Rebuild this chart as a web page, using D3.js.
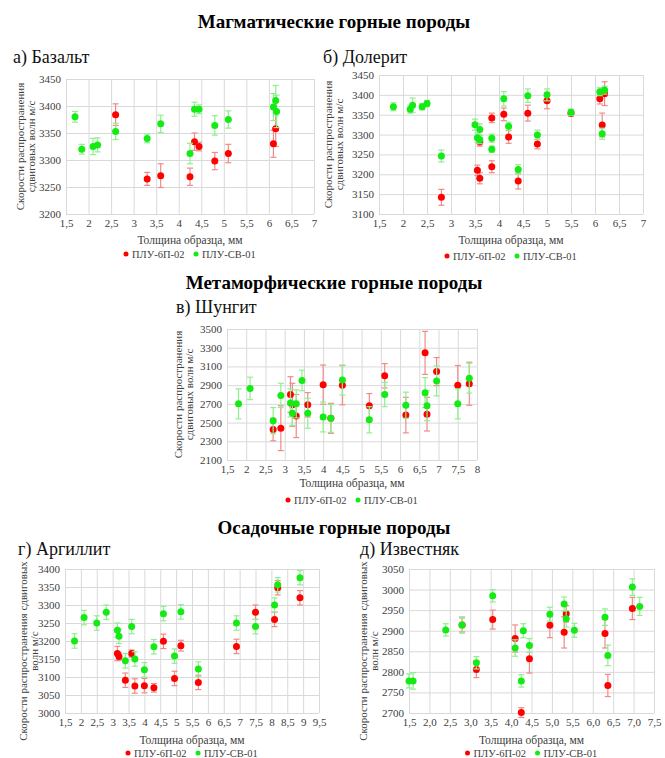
<!DOCTYPE html>
<html>
<head>
<meta charset="utf-8">
<script src="https://cdn.jsdelivr.net/npm/d3@7"></script>
<style>
  body { margin: 0; background: #fff; }
</style>
</head>
<body>
<div id="chart"></div>
<script>
// series as [thickness mm, velocity m/s, error]
let basaltRed = [[2.6,3384,20],[3.3,3265,12],[3.6,3271,22],[4.25,3269,16],[4.35,3334,16],[4.45,3325,8],
  [4.8,3298,16],[5.1,3312,17],[6.1,3330,25],[6.15,3358,33]];
let basaltGreen = [[1.7,3380,10],[1.85,3320,9],[2.1,3325,15],[2.2,3328,13],[2.6,3353,15],[3.3,3340,8],
  [3.6,3367,16],[4.25,3312,19],[4.35,3394,13],[4.45,3394,8],[4.8,3364,18],[5.1,3375,16],
  [6.1,3398,25],[6.15,3410,28],[6.17,3390,30]];

let doleriteRed = [[2.8,3142,20],[3.55,3210,13],[3.6,3190,14],[3.6,3281,10],[3.85,3342,12],[3.85,3219,15],
  [4.1,3351,16],[4.2,3294,16],[4.4,3183,20],[4.6,3354,20],[4.8,3276,12],[5.0,3385,20],
  [5.5,3354,8],[6.1,3390,13],[6.15,3324,30],[6.2,3403,30]];
let doleriteGreen = [[1.8,3370,10],[2.15,3364,10],[2.2,3374,18],[2.4,3370,8],[2.5,3378,8],[2.8,3246,15],
  [3.5,3325,14],[3.55,3292,12],[3.6,3313,14],[3.6,3287,10],[3.85,3291,10],[3.85,3263,8],
  [4.1,3390,18],[4.2,3321,10],[4.4,3212,12],[4.6,3398,17],[4.8,3299,12],[5.0,3400,15],
  [5.5,3356,8],[6.1,3408,10],[6.15,3302,14],[6.2,3412,10]];

let shungiteRed = [[2.7,2425,120],[2.9,2440,240],[3.15,2800,190],[3.2,2690,230],[3.3,2570,230],
  [3.6,2690,130],[4.0,2905,210],[4.2,2545,160],[4.5,2900,210],[5.2,2680,130],[5.6,3000,130],
  [6.15,2580,190],[6.65,3245,230],[6.7,2590,180],[6.95,3045,150],[7.5,2900,210],[7.8,2915,230]];
let shungiteGreen = [[1.8,2700,160],[2.1,2865,120],[2.7,2520,140],[2.9,2790,130],[3.15,2710,150],
  [3.2,2600,130],[3.3,2700,150],[3.45,2950,110],[3.6,2600,160],[4.0,2560,160],[4.2,2545,150],
  [4.5,2955,160],[5.2,2530,140],[5.6,2800,130],[6.15,2685,140],[6.65,2820,160],[6.7,2680,160],
  [6.95,2945,160],[7.5,2700,160],[7.8,2975,160]];

let argilliteRed = [[3.15,3165,20],[3.2,3157,10],[3.4,3091,20],[3.6,3165,10],[3.7,3075,20],[4.0,3076,20],
  [4.3,3070,12],[4.6,3199,20],[4.95,3096,20],[5.15,3187,15],[5.7,3085,20],[6.9,3185,20],
  [7.5,3280,20],[8.1,3260,20],[8.2,3348,20],[8.9,3320,20]];
let argilliteGreen = [[1.8,3200,20],[2.1,3265,20],[2.5,3250,20],[2.8,3280,20],[3.15,3230,20],[3.2,3213,20],
  [3.4,3145,20],[3.6,3240,20],[3.7,3150,20],[4.0,3120,20],[4.3,3184,20],[4.6,3276,20],
  [4.95,3158,20],[5.15,3281,20],[5.7,3122,20],[6.9,3250,20],[7.5,3240,20],[8.1,3300,20],
  [8.2,3356,20],[8.9,3376,20]];

let limestoneRed = [[2.8,2914,17],[3.15,2806,20],[3.55,2927,23],[4.1,2881,33],[4.25,2701,12],[4.45,2832,35],
  [4.95,2913,30],[5.3,2896,38],[5.35,2941,20],[6.3,2893,35],[6.37,2767,27],[6.97,2954,27]];
let limestoneGreen = [[1.5,2778,17],[1.6,2778,20],[2.4,2902,15],[2.8,2914,20],[3.15,2822,15],[3.55,2985,15],
  [4.1,2858,20],[4.25,2778,15],[4.3,2900,17],[4.45,2864,17],[4.95,2940,17],[5.3,2965,17],
  [5.35,2929,20],[5.55,2901,17],[6.3,2933,20],[6.37,2840,25],[6.97,3006,20],[7.15,2959,22]];

let seriesNames = ["ПЛУ-6П-02", "ПЛУ-СВ-01"];
let sectionTitles = ["Магматические горные породы", "Метаморфические горные породы", "Осадочные горные породы"];
let xTitle = "Толщина образца, мм";

const width = 665, height = 758;
const FONT = "'Liberation Serif', 'Times New Roman', serif";
const red = "#ff0000", green = "#14ea14";
const redErr = "#f08a8a", greenErr = "#8ef08e";

let svg = d3.select("#chart").append("svg")
    .attr("width", width)
    .attr("height", height);

// section titles
[[sectionTitles[0], 28], [sectionTitles[1], 289], [sectionTitles[2], 534]].forEach(([t, y]) => {
  svg.append("text")
    .attr("x", 334).attr("y", y)
    .attr("text-anchor", "middle")
    .style("font-size", "19px")
    .style("font-weight", "bold")
    .text(t);
});

let comma = d => String(d).replace(".", ",");
let comma1 = d => d3.format(".1f")(d).replace(".", ",");

let panels = [
  {label: "а) Базальт", lx: 13, ly: 63, box: {l: 66, r: 314, t: 79, b: 214},
   xd: [1.5, 7], yd: [3200, 3450], ystep: 50, xfmt: comma,
   ylab: ["Скорости распространения", "сдвиговых волн м/с"], ylx: 24, yly: 0,
   xty: 244, legy: 258, red: basaltRed, green: basaltGreen},
  {label: "б) Долерит", lx: 323, ly: 63, box: {l: 379, r: 643, t: 75, b: 214},
   xd: [1.5, 7], yd: [3100, 3450], ystep: 50, xfmt: comma,
   ylab: ["Скорости распространения", "сдвиговых волн м/с"], ylx: 332, yly: 0,
   xty: 244, legy: 260, red: doleriteRed, green: doleriteGreen},
  {label: "в) Шунгит", lx: 176, ly: 313, box: {l: 227, r: 477, t: 329, b: 460},
   xd: [1.5, 8], yd: [2100, 3500], ystep: 200, xfmt: comma,
   ylab: ["Скорости распространения", "сдвиговых волн м/с"], ylx: 182, yly: 0,
   xty: 487, legy: 504, red: shungiteRed, green: shungiteGreen},
  {label: "г) Аргиллит", lx: 18, ly: 555, box: {l: 65, r: 319, t: 569, b: 713},
   xd: [1.5, 9.5], yd: [3000, 3400], ystep: 50, xfmt: comma,
   ylab: ["Скорости распространения сдвиговых", "волн м/с"], ylx: 27, yly: 10,
   xty: 744, legy: 757, red: argilliteRed, green: argilliteGreen},
  {label: "д) Известняк", lx: 360, ly: 555, box: {l: 409, r: 654, t: 569, b: 713},
   xd: [1.5, 7.5], yd: [2700, 3050], ystep: 50, xfmt: comma1,
   ylab: ["Скорости распространения сдвиговых", "волн м/с"], ylx: 367, yly: 10,
   xty: 744, legy: 757, red: limestoneRed, green: limestoneGreen}
];

let drawPanel = (p) => {
  let b = p.box;
  let x = d3.scaleLinear().domain(p.xd).range([b.l, b.r]);
  let y = d3.scaleLinear().domain(p.yd).range([b.b, b.t]);
  let xticks = d3.range(p.xd[0], p.xd[1] + 0.001, 0.5);
  let yticks = d3.range(p.yd[0], p.yd[1] + 0.001, p.ystep);

  let g = svg.append("g");

  // gridlines + tick labels
  g.append("g")
    .attr("transform", `translate(0,${b.b})`)
    .call(d3.axisBottom(x).tickValues(xticks).tickSize(-(b.b - b.t)).tickFormat(p.xfmt).tickPadding(5))
    .call(a => a.select(".domain").remove())
    .call(a => a.selectAll("line").attr("stroke", "#d9d9d9"))
    .call(a => a.selectAll("text").attr("fill", "#404040").style("font-size", "11px"));

  g.append("g")
    .attr("transform", `translate(${b.l},0)`)
    .call(d3.axisLeft(y).tickValues(yticks).tickSize(-(b.r - b.l)).tickFormat(d3.format("d")).tickPadding(5))
    .call(a => a.select(".domain").remove())
    .call(a => a.selectAll("line").attr("stroke", "#d9d9d9"))
    .call(a => a.selectAll("text").attr("fill", "#404040").style("font-size", "11px"));

  // panel label
  g.append("text")
    .attr("x", p.lx).attr("y", p.ly)
    .style("font-size", "18px")
    .attr("fill", "#111")
    .text(p.label);

  // y axis title
  let cy = (b.t + b.b) / 2 + p.yly;
  p.ylab.forEach((line, i) => {
    g.append("text")
      .attr("transform", `translate(${p.ylx + i * 11},${cy}) rotate(-90)`)
      .attr("text-anchor", "middle")
      .attr("fill", "#404040")
      .style("font-size", "11px")
      .text(line);
  });

  // x axis title
  g.append("text")
    .attr("x", (b.l + b.r) / 2).attr("y", p.xty)
    .attr("text-anchor", "middle")
    .attr("fill", "#404040")
    .style("font-size", "11.5px")
    .text(xTitle);

  // series: red first, green on top
  [[p.red, red, redErr], [p.green, green, greenErr]].forEach(([data, col, ecol]) => {
    let s = g.append("g");
    s.selectAll(".err").data(data).enter()
      .append("line")
      .attr("x1", d => x(d[0])).attr("x2", d => x(d[0]))
      .attr("y1", d => y(d[1] - d[2])).attr("y2", d => y(d[1] + d[2]))
      .attr("stroke", ecol).attr("stroke-width", 1.2);
    [-1, 1].forEach(sign => {
      s.selectAll(null).data(data).enter()
        .append("line")
        .attr("x1", d => x(d[0]) - 3).attr("x2", d => x(d[0]) + 3)
        .attr("y1", d => y(d[1] + sign * d[2])).attr("y2", d => y(d[1] + sign * d[2]))
        .attr("stroke", ecol).attr("stroke-width", 1.2);
    });
    s.selectAll("circle").data(data).enter()
      .append("circle")
      .attr("cx", d => x(d[0]))
      .attr("cy", d => y(d[1]))
      .attr("r", 3.5)
      .attr("fill", col);
  });

  // legend
  let cx = (b.l + b.r) / 2;
  let leg = g.append("g").attr("transform", `translate(${cx - 64},${p.legy})`);
  [[0, red, seriesNames[0]], [70, green, seriesNames[1]]].forEach(([dx, col, name]) => {
    leg.append("circle").attr("cx", dx).attr("cy", -4).attr("r", 2.5).attr("fill", col);
    leg.append("text").attr("x", dx + 6).attr("y", 0)
      .attr("fill", "#404040").style("font-size", "10.5px").text(name);
  });
};

panels.forEach(drawPanel);

// serif everywhere, like the source figure
svg.selectAll("text").style("font-family", FONT);
</script>
</body>
</html>
